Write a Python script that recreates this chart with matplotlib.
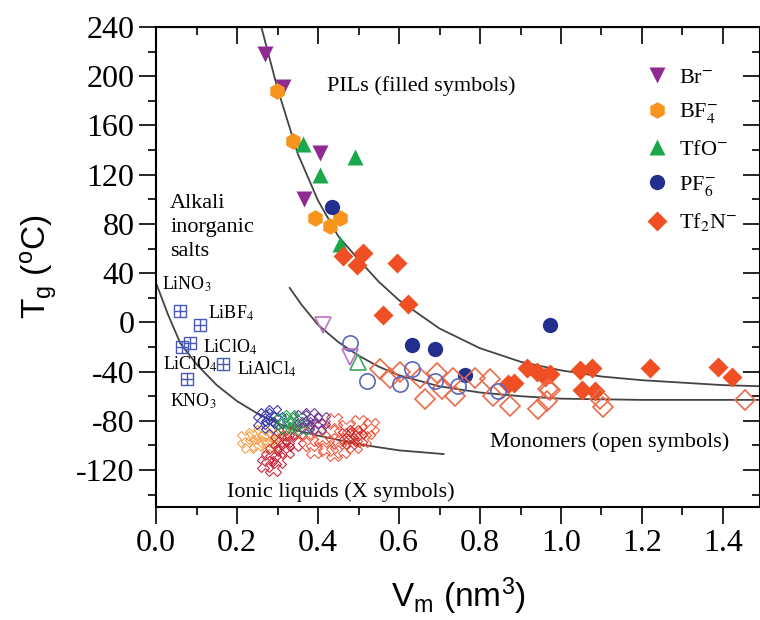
import matplotlib
matplotlib.use("Agg")
import matplotlib.pyplot as plt
from matplotlib.ticker import MultipleLocator, FormatStrFormatter

plt.rcParams['font.family'] = ['Liberation Serif', 'DejaVu Serif']
plt.rcParams['mathtext.fontset'] = 'custom'
plt.rcParams['mathtext.rm'] = 'Liberation Sans'
plt.rcParams['mathtext.it'] = 'Liberation Sans:italic'
plt.rcParams['axes.unicode_minus'] = False

# PILs (filled symbols)
br_x = [0.269, 0.314, 0.405, 0.365]
br_y = [218, 191, 138, 100]
bf4_x = [0.299, 0.339, 0.393, 0.430, 0.454]
bf4_y = [188, 147, 85, 78, 85]
tfo_x = [0.363, 0.405, 0.491, 0.454]
tfo_y = [145, 120, 134, 64]
pf6_x = [0.434, 0.632, 0.689, 0.973, 0.763]
pf6_y = [94, -18, -22, -2, -43]
tf2n_x = [0.462, 0.496, 0.511, 0.561, 0.595, 0.622, 0.870, 0.885, 0.915, 0.940,
          0.960, 0.973, 1.047, 1.076, 1.052, 1.084, 1.220, 1.388, 1.422]
tf2n_y = [54, 47, 56, 6, 48, 15, -50, -49, -37, -40,
          -44, -42, -39, -37, -55, -56, -37, -36, -44]

# monomers (open symbols)
br_open_x = [0.413, 0.479]
br_open_y = [-2, -28]
tfo_open_x = [0.499]
tfo_open_y = [-32]
pf6_open_x = [0.479, 0.521, 0.602, 0.632, 0.689, 0.746, 0.844]
pf6_open_y = [-17, -48, -50, -38, -48, -52, -56]
tf2n_open_x = [0.553, 0.578, 0.602, 0.652, 0.664, 0.694, 0.706, 0.733, 0.738, 0.788,
               0.825, 0.832, 0.874, 0.943, 0.965, 0.968, 0.973, 1.096, 1.104, 1.454]
tf2n_open_y = [-38, -45, -40, -45, -62, -41, -54, -45, -60, -45,
               -46, -60, -68, -70, -64, -54, -55, -62, -69, -63]

# alkali inorganic salts
alk_x = [0.059, 0.109, 0.064, 0.084, 0.165, 0.077]
alk_y = [9, -2, -20, -17, -34, -46]
alk_names = ['LiNO$_3$', 'LiBF$_4$', 'LiClO$_4$', 'LiClO$_4$', 'LiAlCl$_4$', 'KNO$_3$']

# ionic liquids (X symbols)
il_orange_x = [0.22, 0.23, 0.24, 0.25, 0.26, 0.27, 0.28, 0.29, 0.30, 0.31]
il_orange_y = [-95, -100, -92, -98, -90, -95, -100, -92, -97, -90]
il_blue_x = [0.26, 0.27, 0.28, 0.28, 0.29, 0.30]
il_blue_y = [-80, -76, -83, -78, -74, -79]
il_purple_x = [0.36, 0.37, 0.38, 0.39, 0.40, 0.41]
il_purple_y = [-78, -83, -76, -80, -84, -79]
il_green_x = [0.31, 0.32, 0.33, 0.34, 0.35, 0.36]
il_green_y = [-80, -84, -78, -82, -79, -85]
il_crimson_x = [0.27, 0.28, 0.29, 0.29, 0.30, 0.30, 0.31, 0.32, 0.32, 0.33, 0.34, 0.35]
il_crimson_y = [-115, -110, -105, -118, -112, -96, -100, -95, -104, -90, -98, -88]
il_red_x = [0.37, 0.38, 0.39, 0.40, 0.41, 0.42, 0.43, 0.44, 0.44, 0.45, 0.46, 0.47,
            0.48, 0.49, 0.50, 0.51, 0.52, 0.53]
il_red_y = [-90, -98, -104, -85, -95, -102, -88, -80, -106, -96, -104, -86,
            -92, -100, -82, -95, -88, -84]
il_dark_x = [0.47, 0.48, 0.49, 0.50]
il_dark_y = [-92, -96, -90, -94]

# fit lines
pil_fit_x = [0.26, 0.30, 0.35, 0.40, 0.45, 0.50, 0.55, 0.60, 0.70, 0.80, 0.90,
             1.00, 1.10, 1.20, 1.30, 1.40, 1.50]
pil_fit_y = [240, 190, 137, 99, 70, 51, 33, 18, -5, -21, -32,
             -39, -44, -47, -49, -51, -52]
mono_fit_x = [0.33, 0.36, 0.40, 0.45, 0.50, 0.55, 0.60, 0.70, 0.80, 0.90, 1.00, 1.20, 1.50]
mono_fit_y = [28, 14, -2, -16, -27, -36, -43, -52, -57, -60, -62, -63, -63]
il_fit_x = [0.0, 0.03, 0.06, 0.10, 0.15, 0.20, 0.25, 0.30, 0.35, 0.40, 0.50, 0.60, 0.71]
il_fit_y = [32, 6, -17, -34, -51, -64, -74, -82, -88, -92, -99, -104, -107]

fig = plt.figure(figsize=(7.6, 6.2), dpi=100)
ax = fig.add_axes([0.2053, 0.1823, 0.7947, 0.7742])

for fx, fy in [(pil_fit_x, pil_fit_y), (mono_fit_x, mono_fit_y), (il_fit_x, il_fit_y)]:
    ax.plot(fx, fy, color='#444444', lw=1.3, zorder=1)

# ionic liquids
for xs, ys, c in [(il_orange_x, il_orange_y, '#f5a04a'), (il_crimson_x, il_crimson_y, '#c8283c'),
                  (il_red_x, il_red_y, '#f05a40'), (il_dark_x, il_dark_y, '#d02a2a'),
                  (il_blue_x, il_blue_y, '#3a3aa8'), (il_green_x, il_green_y, '#22a050'),
                  (il_purple_x, il_purple_y, '#6a3a9a')]:
    ax.plot(xs, ys, 'X', ls='none', ms=11, mfc='none', mec=c, mew=0.8, zorder=2)

# alkali salts
ax.plot(alk_x, alk_y, 's', ls='none', ms=9, mfc='none', mec='#4a58b8', mew=1, zorder=2)
ax.plot(alk_x, alk_y, '+', ls='none', ms=9, mec='#4a58b8', mew=1, zorder=2)

# filled PILs
h_br, = ax.plot(br_x, br_y, 'v', ls='none', ms=12, color='#8e2a92', mec='none', zorder=3)
h_bf4, = ax.plot(bf4_x, bf4_y, 'h', ls='none', ms=12, color='#f7941d', mec='none', zorder=3)
h_tfo, = ax.plot(tfo_x, tfo_y, '^', ls='none', ms=12, color='#1aa84a', mec='none', zorder=3)
h_pf6, = ax.plot(pf6_x, pf6_y, 'o', ls='none', ms=11, color='#232f8f', mec='none', zorder=3)
h_tf2n, = ax.plot(tf2n_x, tf2n_y, 'D', ls='none', ms=10, color='#f04e23', mec='none', zorder=3)

# open monomers
ax.plot(tf2n_open_x, tf2n_open_y, 'D', ls='none', ms=10, mfc='none', mec='#ec6a48', mew=1.2, zorder=4)
ax.plot(pf6_open_x, pf6_open_y, 'o', ls='none', ms=11, mfc='none', mec='#5a68c0', mew=1.2, zorder=4)
ax.plot(br_open_x, br_open_y, 'v', ls='none', ms=12, mfc='none', mec='#c070c0', mew=1.2, zorder=4)
ax.plot(tfo_open_x, tfo_open_y, '^', ls='none', ms=12, mfc='none', mec='#3aa860', mew=1.2, zorder=4)

# salt labels
lab_pos = [(0.015, 31), (0.128, 7), (0.116, -20), (0.017, -34), (0.20, -38), (0.035, -64)]
for (tx, ty), name in zip(lab_pos, alk_names):
    t = ax.text(tx, ty, name, fontsize=13, va='center', ha='left')
    t.set_math_fontfamily('stix')

ax.text(0.422, 192, 'PILs (filled symbols)', fontsize=16, va='center')
ax.text(0.035, 104, 'Alkali\ninorganic\nsalts', fontsize=16, va='top', linespacing=1.35)
ax.text(0.825, -97, 'Monomers (open symbols)', fontsize=16, va='center')
ax.text(0.175, -138, 'Ionic liquids (X symbols)', fontsize=16, va='center')

leg = ax.legend([h_br, h_bf4, h_tfo, h_pf6, h_tf2n],
                ['Br$^{-}$', 'BF$_4^{-}$', 'TfO$^{-}$', 'PF$_6^{-}$', 'Tf$_2$N$^{-}$'],
                loc='upper left', bbox_to_anchor=(0.774, 0.958), frameon=False,
                fontsize=16, handletextpad=0.4, labelspacing=0.62, handlelength=1.2)
for t in leg.get_texts():
    t.set_math_fontfamily('stix')

ax.set_xlim(0, 1.4914)
ax.set_ylim(-150, 240)
ax.xaxis.set_major_locator(MultipleLocator(0.2))
ax.xaxis.set_minor_locator(MultipleLocator(0.1))
ax.yaxis.set_major_locator(MultipleLocator(40))
ax.yaxis.set_minor_locator(MultipleLocator(20))
ax.xaxis.set_major_formatter(FormatStrFormatter('%.1f'))
ax.tick_params(which='major', direction='out', length=12, width=1.2, labelsize=23)
ax.tick_params(which='minor', direction='out', length=6, width=1.2)
for s in ax.spines.values():
    s.set_linewidth(1.5)

top = ax.secondary_xaxis('top')
top.xaxis.set_major_locator(MultipleLocator(0.2))
top.xaxis.set_minor_locator(MultipleLocator(0.1))
top.tick_params(which='major', direction='in', length=12, width=1.2, labeltop=False)
top.tick_params(which='minor', direction='in', length=6, width=1.2)
right = ax.secondary_yaxis('right')
right.yaxis.set_major_locator(MultipleLocator(40))
right.yaxis.set_minor_locator(MultipleLocator(20))
right.tick_params(which='major', direction='in', length=12, width=1.2, labelright=False)
right.tick_params(which='minor', direction='in', length=6, width=1.2)

ax.set_xlabel(r'V$_{\mathregular{m}}$ (nm$^{\mathregular{3}}$)', fontsize=24,
              family='Liberation Sans', labelpad=13)
ax.set_ylabel(r'T$_{\mathregular{g}}$ ($^{\mathregular{o}}$C)', fontsize=24,
              family='Liberation Sans', labelpad=12)

fig.savefig('out.png', dpi=100)
